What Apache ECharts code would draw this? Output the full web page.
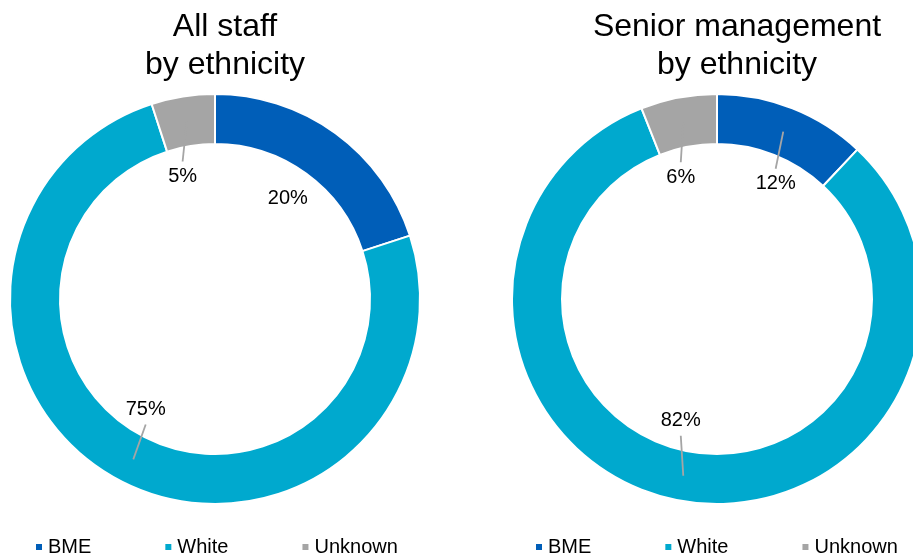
<!DOCTYPE html>
<html>
<head>
<meta charset="utf-8">
<script src="https://cdn.jsdelivr.net/npm/echarts@6/dist/echarts.min.js"></script>
<style>
html,body{margin:0;padding:0;background:#fff;}
#chart{width:913px;height:554px;}
</style>
</head>
<body>
<div id="chart"></div>
<script>
const categories = ['BME', 'White', 'Unknown'];
const allStaffValues = [20, 75, 5];
const seniorValues = [12, 82, 6];
const chartTitles = ['All staff\nby ethnicity', 'Senior management\nby ethnicity'];
const colors = ['#005EB8', '#00A9CE', '#A5A5A5'];

const FONT = "'Liberation Sans', Arial, sans-serif";
const centers = [[215, 299], [717, 299]];
const ringRadius = [155, 205];
const leaderOuterR = 180, labelR = 124, labelShift = 13, labelGap = 15;
const noLeader = [[0], []]; // data indices without leader line per chart

const seriesValues = [allStaffValues, seniorValues];

function midAngle(values, idx) {
  const total = values.reduce((a, b) => a + b, 0);
  let cum = 0;
  for (let i = 0; i < idx; i++) cum += values[i];
  return (cum + values[idx] / 2) / total * Math.PI * 2;
}

function makeLayout(si) {
  return function (params) {
    const vals = seriesValues[si];
    const a = midAngle(vals, params.dataIndex);
    const c = centers[si];
    const pt = r => [c[0] + r * Math.sin(a), c[1] - r * Math.cos(a)];
    const lp = pt(labelR);
    const hasLine = noLeader[si].indexOf(params.dataIndex) < 0;
    if (hasLine) lp[0] += labelShift * Math.sign(Math.sin(a));
    const p1 = pt(leaderOuterR);
    const p2 = [lp[0], lp[1] - labelGap * Math.sign(Math.cos(a))];
    return {
      x: lp[0], y: lp[1], align: 'center', verticalAlign: 'middle',
      labelLinePoints: [p1, p2, p2]
    };
  };
}

function ringSeries(si) {
  const vals = seriesValues[si];
  return {
    type: 'pie',
    name: chartTitles[si],
    center: centers[si],
    radius: ringRadius,
    startAngle: 90,
    clockwise: true,
    silent: true,
    z: 2,
    itemStyle: { borderColor: '#fff', borderWidth: 2 },
    label: { show: false },
    labelLine: { show: false },
    data: categories.map((n, i) => ({ name: n, value: vals[i], itemStyle: { color: colors[i] } }))
  };
}

function labelSeries(si) {
  const vals = seriesValues[si];
  return {
    type: 'pie',
    name: chartTitles[si] + ' labels',
    center: centers[si],
    radius: ringRadius,
    startAngle: 90,
    clockwise: true,
    avoidLabelOverlap: false,
    silent: true,
    z: 5,
    itemStyle: { color: 'rgba(0,0,0,0)', borderWidth: 0 },
    label: {
      show: true, position: 'outside', formatter: '{c}%',
      fontFamily: FONT, fontSize: 20, color: '#000'
    },
    labelLine: { show: true, showAbove: true, length: 10, length2: 10, lineStyle: { color: '#A5A5A5', width: 1.8 } },
    labelLayout: makeLayout(si),
    data: categories.map((n, i) => {
      const d = { name: n, value: vals[i], itemStyle: { color: 'rgba(0,0,0,0)' } };
      if (noLeader[si].indexOf(i) >= 0) d.labelLine = { show: false };
      return d;
    })
  };
}

const chart = echarts.init(document.getElementById('chart'), null, { renderer: 'canvas' });
const legendBase = {
  data: categories, icon: 'rect', itemWidth: 8, itemHeight: 8, itemGap: 72,
  top: 532, orient: 'horizontal', selectedMode: false,
  textStyle: { fontFamily: FONT, fontSize: 20, color: '#000' }
};
chart.setOption({
  animation: false,
  color: colors,
  title: [
    { text: chartTitles[0], left: 220, top: 3, textAlign: 'center',
      textStyle: { fontFamily: FONT, fontSize: 32, fontWeight: 'normal', color: '#000', lineHeight: 38 } },
    { text: chartTitles[1], left: 732, top: 3, textAlign: 'center',
      textStyle: { fontFamily: FONT, fontSize: 32, fontWeight: 'normal', color: '#000', lineHeight: 38 } }
  ],
  legend: [
    Object.assign({}, legendBase, { left: 29 }),
    Object.assign({}, legendBase, { left: 529 })
  ],
  series: [ringSeries(0), ringSeries(1), labelSeries(0), labelSeries(1)]
});
</script>
</body>
</html>
